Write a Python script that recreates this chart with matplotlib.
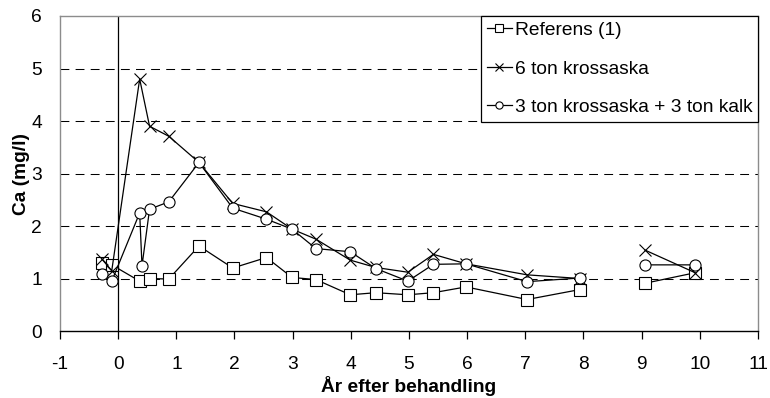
import numpy as np
import matplotlib
matplotlib.use("Agg")
from matplotlib import pyplot as plt

nan = np.nan

# år efter behandling / Ca-halt (mg/l), glapp mellan 8 och 9 år
ref_x = [-0.28, -0.11, 0.37, 0.54, 0.87, 1.39, 1.97, 2.55, 2.99, 3.40, 3.99,
         4.43, 4.98, 5.42, 5.98, 7.03, 7.94, nan, 9.06, 9.92]
ref_y = [1.29, 1.26, 0.95, 1.00, 0.99, 1.62, 1.20, 1.40, 1.02, 0.98, 0.69,
         0.73, 0.69, 0.73, 0.84, 0.60, 0.79, nan, 0.91, 1.11]

aska_x = [-0.28, -0.11, 0.37, 0.54, 0.87, 1.39, 1.97, 2.55, 2.99, 3.40, 3.99,
          4.43, 4.98, 5.42, 5.98, 7.03, 7.94, nan, 9.06, 9.92]
aska_y = [1.37, 1.15, 4.80, 3.90, 3.71, 3.21, 2.43, 2.27, 1.94, 1.75, 1.35,
          1.21, 1.12, 1.46, 1.28, 1.07, 1.00, nan, 1.54, 1.11]

kalk_x = [-0.28, -0.11, 0.37, 0.41, 0.54, 0.87, 1.39, 1.97, 2.55, 2.99, 3.40,
          3.99, 4.43, 4.98, 5.42, 5.98, 7.03, 7.94, nan, 9.06, 9.92]
kalk_y = [1.09, 0.95, 2.25, 1.24, 2.32, 2.46, 3.21, 2.34, 2.13, 1.94, 1.57,
          1.51, 1.19, 0.95, 1.27, 1.28, 0.94, 1.01, nan, 1.26, 1.26]

labels = ['Referens (1)', '6 ton krossaska', '3 ton krossaska + 3 ton kalk']
x_ticks = list(range(-1, 12))
y_ticks = list(range(0, 7))

plt.rcParams['font.family'] = ['Liberation Sans', 'DejaVu Sans']
plt.rcParams['font.size'] = 13.8
plt.rcParams['axes.unicode_minus'] = False

fig = plt.figure(figsize=(7.7, 3.98), dpi=100)
ax = fig.add_axes([0.0779, 0.1683, 0.9844 - 0.0779, 0.9598 - 0.1683])

for yv in y_ticks[1:-1]:
    ax.axhline(yv, color='black', lw=0.75, ls=(0, (8.5, 6)), zorder=1)
ax.axvline(0, color='black', lw=0.9, zorder=1)

style = dict(color='black', lw=0.9, mfc='white', mec='black', ms=8,
             mew=0.8, zorder=3)
ax.plot(ref_x, ref_y, marker='s', label=labels[0], **style)
ax.plot(aska_x, aska_y, marker='x', label=labels[1], **style)
ax.plot(kalk_x, kalk_y, marker='o', label=labels[2], **style)

ax.set_xlim(-1, 11)
ax.set_ylim(0, 6)
ax.set_xticks(x_ticks)
ax.set_yticks(y_ticks)
ax.tick_params(axis='x', direction='out', length=6, width=0.9, pad=12)
ax.tick_params(axis='y', length=0, pad=13)

for side in ('left', 'top', 'right'):
    ax.spines[side].set_color('#8c8c8c')
    ax.spines[side].set_linewidth(1.0)
ax.spines['bottom'].set_color('black')
ax.spines['bottom'].set_linewidth(1.0)

ax.set_xlabel('År efter behandling', fontweight='bold', labelpad=2.5)
ax.set_ylabel('Ca (mg/l)', fontweight='bold', labelpad=1)

leg = ax.legend(loc='upper right', borderaxespad=0, fancybox=False,
                edgecolor='black', framealpha=1, markerscale=0.65,
                handlelength=1.3, handletextpad=0.15, labelspacing=1.1,
                borderpad=0.3)
leg.get_frame().set_linewidth(0.9)
leg.set_zorder(5)

fig.savefig('out.png', dpi=100)
